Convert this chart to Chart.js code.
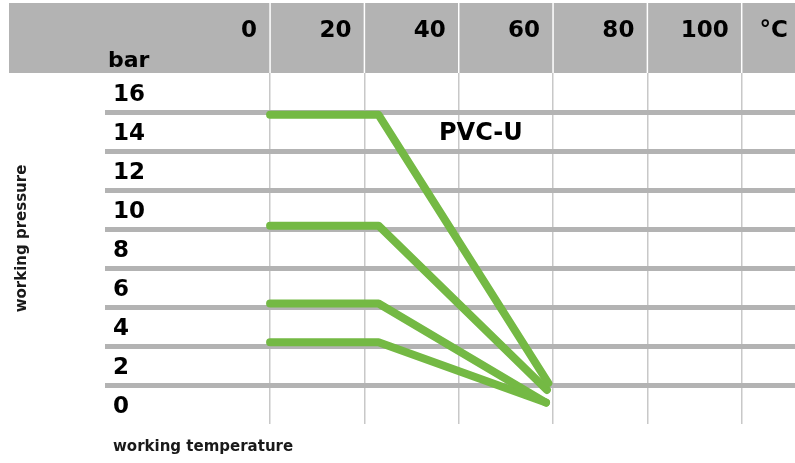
<!DOCTYPE html>
<html>
<head>
<meta charset="utf-8">
<title>PVC-U working pressure / temperature</title>
<script src="https://cdn.jsdelivr.net/npm/chart.js@4"></script>
<style>
  html, body { margin: 0; padding: 0; background: #fff; }
  #chart { display: block; }
</style>
</head>
<body>
<canvas id="chart" width="795" height="463"></canvas>
<script>
// ========================================
// Data
// ========================================
const tempTicks = [0, 20, 40, 60, 80, 100];
const pressureTicks = [0, 2, 4, 6, 8, 10, 12, 14, 16];
const tempUnit = '°C';
const pressureUnit = 'bar';
const materialLabel = 'PVC-U';
const xTitle = 'working temperature';
const yTitle = 'working pressure';

// one curve per pressure class: flat, then down to ~60 °C
const pn16Temp = [0, 23, 59];
const pn16Bar = [15.9, 15.9, 2.1];
const pn10Temp = [0, 23, 58.7];
const pn10Bar = [10.2, 10.2, 1.75];
const pn6Temp = [0, 23, 58.5];
const pn6Bar = [6.2, 6.2, 1.1];
const pn4Temp = [0, 23, 58.5];
const pn4Bar = [4.2, 4.2, 1.1];

// ========================================
// Helpers
// ========================================
const FONT = '"DejaVu Sans", sans-serif';
const GREEN = '#74b944';

function toPoints(xs, ys) {
  return xs.map((x, i) => ({ x: x, y: ys[i] }));
}

function makeSeries(label, xs, ys) {
  return {
    label: label,
    data: toPoints(xs, ys),
    borderColor: GREEN,
    borderWidth: 8,
    borderCapStyle: 'round',
    borderJoinStyle: 'round',
    pointRadius: 0,
    tension: 0,
    fill: false
  };
}

// Header band, tick labels, titles - placed with the chart scales
const labelsPlugin = {
  id: 'gridLabels',
  beforeDraw(chart) {
    const { ctx, chartArea, scales } = chart;
    ctx.save();
    ctx.fillStyle = '#b3b3b3';
    ctx.fillRect(9, 3, chart.width - 9, chartArea.top - 3);
    // white separators inside the header
    ctx.strokeStyle = '#ffffff';
    ctx.lineWidth = 1.5;
    tempTicks.forEach(t => {
      const x = scales.x.getPixelForValue(t);
      ctx.beginPath();
      ctx.moveTo(x, 3);
      ctx.lineTo(x, chartArea.top);
      ctx.stroke();
    });
    ctx.restore();
  },
  afterDraw(chart) {
    const { ctx, chartArea, scales } = chart;
    ctx.save();
    ctx.fillStyle = '#000';
    ctx.textBaseline = 'alphabetic';

    // temperature ticks, right-aligned just left of their grid line
    ctx.font = 'bold 23px ' + FONT;
    ctx.textAlign = 'right';
    tempTicks.forEach(t => {
      ctx.fillText(String(t), scales.x.getPixelForValue(t) - 13, 37);
    });
    ctx.fillText(tempUnit, chartArea.right - 7, 37);

    // pressure ticks, sitting in the band above their grid line
    ctx.textAlign = 'left';
    pressureTicks.forEach(p => {
      ctx.fillText(String(p), chartArea.left + 8, scales.y.getPixelForValue(p + 1) + 8);
    });
    ctx.font = 'bold 22px ' + FONT;
    ctx.fillText(pressureUnit, chartArea.left + 3, 67);

    // material label
    ctx.font = 'bold 24px ' + FONT;
    ctx.textAlign = 'center';
    ctx.fillText(materialLabel, scales.x.getPixelForValue(44.7), scales.y.getPixelForValue(14.6));

    // axis titles
    ctx.font = 'bold 15px ' + FONT;
    ctx.fillStyle = '#1a1a1a';
    ctx.textAlign = 'left';
    ctx.textBaseline = 'middle';
    ctx.fillText(xTitle, chartArea.left + 8, 447);

    ctx.translate(22.5, (chartArea.top + chartArea.bottom) / 2 - 10);
    ctx.rotate(-Math.PI / 2);
    ctx.textAlign = 'center';
    ctx.fillText(yTitle, 0, 0);
    ctx.restore();
  }
};

// ========================================
// Chart
// ========================================
const chart = new Chart(document.getElementById('chart'), {
  type: 'line',
  data: {
    datasets: [
      makeSeries('PN16', pn16Temp, pn16Bar),
      makeSeries('PN10', pn10Temp, pn10Bar),
      makeSeries('PN6', pn6Temp, pn6Bar),
      makeSeries('PN4', pn4Temp, pn4Bar)
    ]
  },
  options: {
    responsive: false,
    animation: false,
    layout: {
      padding: { top: 73, left: 105, right: 0, bottom: 39 }
    },
    plugins: {
      legend: { display: false },
      tooltip: { enabled: false }
    },
    scales: {
      x: {
        type: 'linear',
        min: -35,
        max: 111.3,
        afterBuildTicks: scale => {
          scale.ticks = tempTicks.map(v => ({ value: v }));
        },
        ticks: { display: false },
        border: { display: false },
        grid: { color: '#c8c8c8', lineWidth: 1.5, drawTicks: false }
      },
      y: {
        type: 'linear',
        min: 0,
        max: 18.05,
        afterBuildTicks: scale => {
          scale.ticks = pressureTicks.filter(v => v > 0).map(v => ({ value: v }));
        },
        ticks: { display: false },
        border: { display: false },
        grid: { color: '#b3b3b3', lineWidth: 5, drawTicks: false }
      }
    }
  },
  plugins: [labelsPlugin]
});
</script>
</body>
</html>
